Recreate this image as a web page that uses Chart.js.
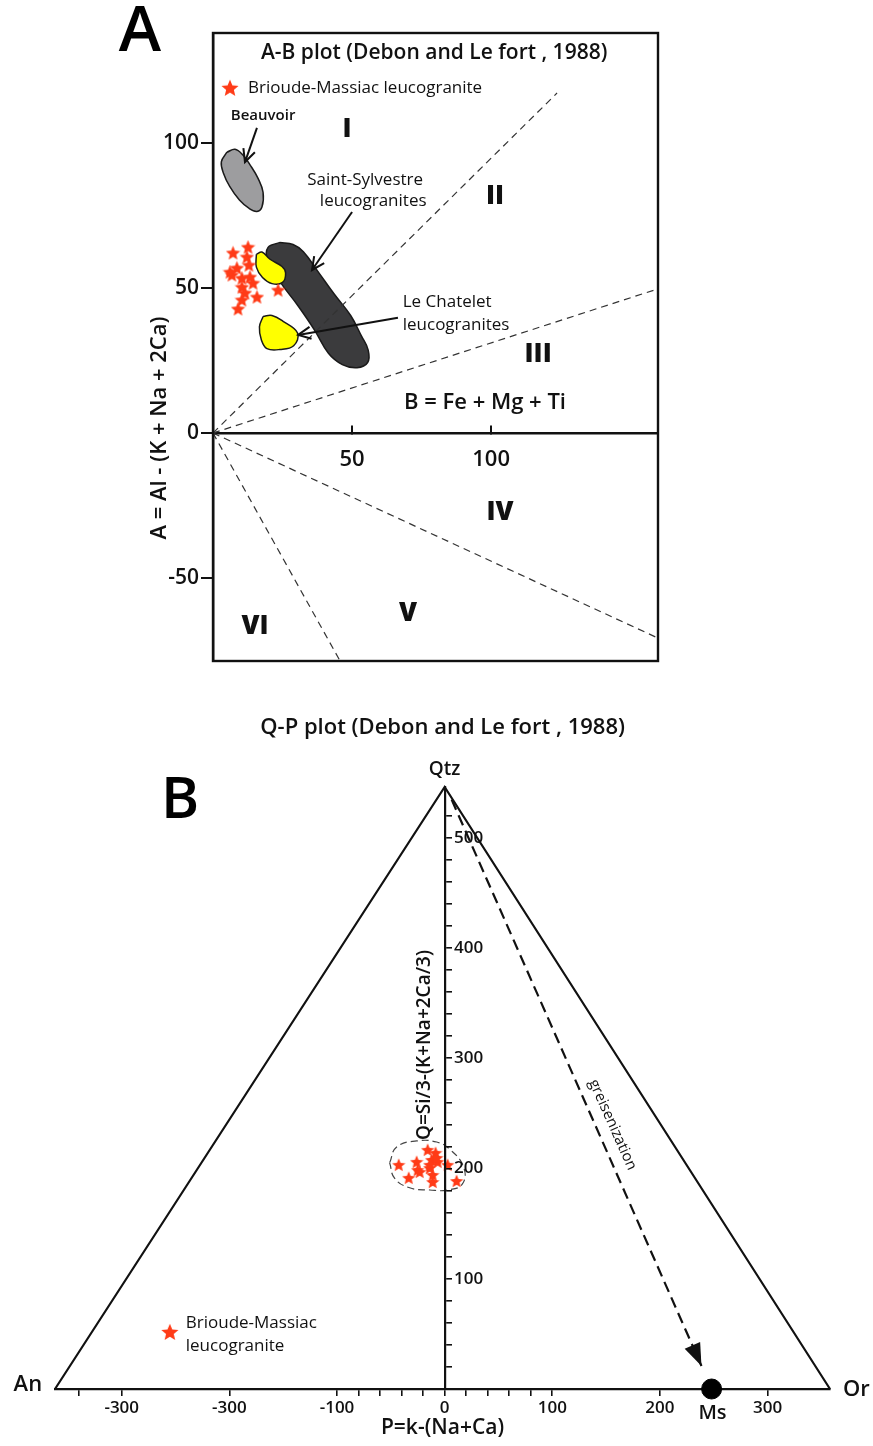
<!DOCTYPE html>
<html>
<head>
<meta charset="utf-8">
<script src="https://cdn.jsdelivr.net/npm/chart.js@4.4.1/dist/chart.umd.min.js"></script>
<style>
  body { margin: 0; background: #fff; }
  #wrap { position: relative; width: 873px; height: 1446px; }
  canvas { position: absolute; left: 0; }
  #cA { top: 0; }
  #cB, #cB2 { top: 700px; }
</style>
</head>
<body>
<div id="wrap">
  <canvas id="cA" width="873" height="700"></canvas>
  <canvas id="cB" width="873" height="746"></canvas>
  <canvas id="cB2" width="873" height="746"></canvas>
</div>
<script>
// ===============================
// DATA : A-B plot
// ===============================
const abStarX = [7.2, 12.6, 12.2, 12.9, 8.6, 6.8, 10.4, 13.3, 14.4, 10.4, 11.5, 10.4, 15.8, 9.0, 23.4, 6.1];
const abStarY = [62.1, 64.1, 60.7, 57.9, 56.9, 54.5, 53.4, 53.8, 51.7, 50.3, 48.3, 45.9, 46.9, 42.8, 49.3, 55.5];

const beauvoirX = [5.0, 7.9, 10.6, 13.5, 16.2, 18.0, 17.6, 15.8, 13.0, 9.5, 6.0, 3.8, 3.0, 5.0];
const beauvoirY = [96.8, 97.8, 96.0, 92.2, 87.8, 83.0, 77.9, 76.4, 77.4, 80.3, 85.0, 89.5, 93.5, 96.8];

const sylvestreX = [24.1, 19.8, 19.6, 24.2, 30.3, 36.5, 41.5, 46.5, 51.8, 55.6, 55.8, 53.4, 49.5, 43.5, 37.5, 32.5, 28.8, 24.1];
const sylvestreY = [65.7, 64.0, 59.7, 52.0, 44.2, 35.5, 27.5, 23.6, 22.5, 24.3, 28.6, 33.4, 40.5, 48.0, 56.0, 62.5, 65.0, 65.7];

const chatelet1X = [15.6, 17.6, 20.5, 24.8, 26.1, 25.0, 21.2, 17.8, 15.6, 15.6];
const chatelet1Y = [61.6, 62.4, 59.9, 57.4, 55.2, 51.9, 51.5, 53.6, 57.2, 61.6];
const chatelet2X = [18.0, 21.2, 25.2, 30.4, 29.0, 24.1, 19.4, 17.4, 16.7, 18.0];
const chatelet2Y = [40.2, 40.5, 38.5, 34.5, 30.1, 28.8, 29.1, 32.1, 36.6, 40.2];

// boundary lines, all start at the origin
const abLineEndX = [123.7, 160, 160, 45.7];
const abLineEndY = [117.2, 49.7, -70.7, -78.6];

// arrows [startX, startY, tipX, tipY]
const arrowBeauvoir = [15.8, 105.2, 11.5, 93.4];
const arrowSylvestre = [50.0, 76.2, 35.6, 56.2];
const arrowChatelet = [66.5, 39.7, 30.6, 33.8];

const abXTicks = [50, 100];
const abYTicks = [-50, 0, 50, 100];

// ===============================
// DATA : Q-P plot
// ===============================
const qpStarX = [-42.7, -26.0, -25.1, -33.4, -15.8, -8.4, -12.1, -6.5, -13.9, -11.1, -11.1, 2.8, 11.1, -23.2, -7.4, -13.9];
const qpStarY = [203.3, 206.0, 198.7, 191.5, 216.9, 214.2, 207.8, 206.0, 200.5, 194.2, 187.8, 203.3, 188.7, 196.9, 209.6, 203.3];

const fieldX = [-51.1, -44.6, -26.0, -7.4, 4.6, 17.5, 16.5, 2.8, -13.9, -32.5, -46.4, -51.1];
const fieldY = [205.1, 219.5, 225.0, 224.0, 217.5, 201.5, 186.0, 180.5, 180.5, 182.5, 191.0, 205.1];

const triangleX = [-362, 0, 358];
const triangleY = [0, 546, 0];

const greisenX = [6.5, 238.6];
const greisenY = [534.5, 20.9];

const msPoint = [248, 0];

const qpXTicks = [-340, -300, -200, -100, -80, -60, -40, -20, 0, 20, 40, 60, 80, 100, 200, 300];
const qpXLabels = ["", "-300", "-300", "-100", "", "", "", "", "0", "", "", "", "", "100", "200", "300"];
const qpYTicks = [20, 40, 60, 80, 100, 120, 140, 160, 180, 200, 220, 240, 260, 280, 300, 320, 340, 360, 380, 400, 420, 440, 460, 480, 500, 520];

// ===============================
// HELPERS
// ===============================
const FONT = '"Open Sans", "Noto Sans", sans-serif';
const INK = "#111";
const STAR_RED = "#ff3b17";

function pairs(xs, ys) {
  return xs.map((x, i) => ({ x: x, y: ys[i] }));
}

function makeStar(size, color) {
  const c = document.createElement("canvas");
  c.width = size;
  c.height = size;
  const g = c.getContext("2d");
  const r = size / 2;
  g.beginPath();
  for (let k = 0; k < 10; k++) {
    const rr = k % 2 ? r * 0.45 : r;
    const a = -Math.PI / 2 + (k * Math.PI) / 5;
    g.lineTo(r + rr * Math.cos(a), r * 1.08 + rr * Math.sin(a));
  }
  g.closePath();
  g.fillStyle = color;
  g.fill();
  return c;
}

// text drawn in data coordinates (or pixels when px is set)
const textPlugin = {
  id: "texts",
  afterDraw(chart, args, opts) {
    const ctx = chart.ctx;
    const xs = chart.scales.x;
    const ys = chart.scales.y;
    (opts.items || []).forEach((t) => {
      const px = t.px ? t.x : xs.getPixelForValue(t.x);
      const py = t.px ? t.y : ys.getPixelForValue(t.y);
      ctx.save();
      ctx.translate(px, py);
      if (t.rot) ctx.rotate((t.rot * Math.PI) / 180);
      ctx.font = t.font;
      ctx.fillStyle = t.color || INK;
      ctx.textAlign = t.align || "center";
      ctx.textBaseline = "middle";
      ctx.fillText(t.text, 0, 0);
      ctx.restore();
    });
  },
};

// arrow heads at the last point of datasets that carry an "arrow" option
const arrowPlugin = {
  id: "arrowHeads",
  afterDatasetsDraw(chart) {
    const ctx = chart.ctx;
    chart.data.datasets.forEach((ds, i) => {
      if (!ds.arrow) return;
      const pts = chart.getDatasetMeta(i).data;
      const a = pts[pts.length - 2];
      const b = pts[pts.length - 1];
      const ang = Math.atan2(b.y - a.y, b.x - a.x);
      const L = ds.arrow.len;
      const s = ds.arrow.spread;
      const p1 = [b.x - L * Math.cos(ang - s), b.y - L * Math.sin(ang - s)];
      const p2 = [b.x - L * Math.cos(ang + s), b.y - L * Math.sin(ang + s)];
      ctx.save();
      ctx.setLineDash([]);
      ctx.strokeStyle = INK;
      ctx.fillStyle = INK;
      ctx.lineWidth = ds.borderWidth;
      ctx.beginPath();
      ctx.moveTo(p1[0], p1[1]);
      ctx.lineTo(b.x, b.y);
      ctx.lineTo(p2[0], p2[1]);
      if (ds.arrow.filled) {
        ctx.closePath();
        ctx.fill();
      } else {
        ctx.stroke();
      }
      ctx.restore();
    });
  },
};

const framePlugin = {
  id: "frame",
  afterDatasetsDraw(chart) {
    const { left, top, right, bottom } = chart.chartArea;
    const ctx = chart.ctx;
    ctx.save();
    ctx.strokeStyle = INK;
    ctx.lineWidth = 2.4;
    ctx.strokeRect(left, top, right - left, bottom - top);
    ctx.restore();
  },
};

function lineSet(xs, ys, extra) {
  return Object.assign(
    {
      data: pairs(xs, ys),
      borderColor: INK,
      borderWidth: 1.2,
      pointRadius: 0,
      tension: 0,
      fill: false,
    },
    extra
  );
}

function arrowSet(a) {
  return lineSet([a[0], a[2]], [a[1], a[3]], {
    borderWidth: 2,
    arrow: { len: 14, spread: 0.45, filled: false },
  });
}

// ===============================
// A-B PLOT
// ===============================
const starA = makeStar(15, STAR_RED);
const starLegend = makeStar(18, STAR_RED);
const starB = makeStar(14, STAR_RED);

const abDashed = abLineEndX.map((x, i) =>
  lineSet([0, x], [0, abLineEndY[i]], { borderColor: "#333", borderWidth: 1.2, borderDash: [7, 5] })
);

function blob(xs, ys, fillColor) {
  return lineSet(xs, ys, {
    borderColor: "#1a1a1a",
    borderWidth: 1.5,
    backgroundColor: fillColor,
    fill: "shape",
    tension: 0.4,
  });
}

new Chart(document.getElementById("cA"), {
  type: "line",
  data: {
    datasets: [
      { data: pairs(abStarX, abStarY), showLine: false, pointStyle: starA, pointRadius: 7 },
      { data: [{ x: 6.1, y: 119.0 }], showLine: false, pointStyle: starLegend, pointRadius: 9 },
      arrowSet(arrowBeauvoir),
      arrowSet(arrowSylvestre),
      arrowSet(arrowChatelet),
      ...abDashed,
      blob(chatelet1X, chatelet1Y, "#ffff00"),
      blob(chatelet2X, chatelet2Y, "#ffff00"),
      blob(sylvestreX, sylvestreY, "#3b3b3d"),
      blob(beauvoirX, beauvoirY, "#9d9d9f"),
    ],
  },
  options: {
    responsive: false,
    animation: false,
    layout: { padding: { left: 153, right: 215, top: 33, bottom: 39 } },
    plugins: {
      legend: { display: false },
      tooltip: { enabled: false },
      texts: {
        items: [
          { px: true, x: 140, y: 33, text: "A", font: "600 64px " + FONT, color: "#000" },
          { x: 79.5, y: 131.0, text: "A-B plot (Debon and Le fort , 1988)", font: "600 21px " + FONT },
          { x: 12.6, y: 119.0, text: "Brioude-Massiac leucogranite", font: "500 17px " + FONT, align: "left" },
          { x: 18.0, y: 109.3, text: "Beauvoir", font: "600 15px " + FONT },
          { x: 48.2, y: 104.5, text: "I", font: "800 26px " + FONT },
          { x: 101.4, y: 81.4, text: "II", font: "800 26px " + FONT },
          { x: 116.9, y: 27.2, text: "III", font: "800 26px " + FONT },
          { x: 103.2, y: -27.6, text: "IV", font: "800 26px " + FONT },
          { x: 70.1, y: -62.1, text: "V", font: "800 26px " + FONT },
          { x: 15.1, y: -66.9, text: "VI", font: "800 26px " + FONT },
          { x: 54.7, y: 87.2, text: "Saint-Sylvestre", font: "500 17px " + FONT },
          { x: 57.6, y: 80.0, text: "leucogranites", font: "500 17px " + FONT },
          { x: 84.2, y: 45.2, text: "Le Chatelet", font: "500 17px " + FONT },
          { x: 87.4, y: 37.2, text: "leucogranites", font: "500 17px " + FONT },
          { x: 97.8, y: 10.3, text: "B = Fe + Mg + Ti", font: "600 22px " + FONT },
          { x: -19.1, y: 1.7, text: "A = Al - (K + Na + 2Ca)", font: "600 22px " + FONT, rot: -90 },
        ],
      },
    },
    scales: {
      x: {
        type: "linear",
        position: { y: 0 },
        min: 0,
        max: 160,
        afterBuildTicks: (s) => {
          s.ticks = abXTicks.map((v) => ({ value: v }));
        },
        grid: { drawOnChartArea: false, tickLength: -9, color: INK, lineWidth: 2 },
        border: { color: INK, width: 2.4 },
        ticks: { padding: 23, color: INK, maxRotation: 0, autoSkip: false, font: { family: FONT, size: 22, weight: "600" } },
      },
      y: {
        type: "linear",
        position: "left",
        min: -78.6,
        max: 137.9,
        afterBuildTicks: (s) => {
          s.ticks = abYTicks.map((v) => ({ value: v }));
        },
        afterFit: (s) => {
          s.width = 60;
        },
        grid: { drawOnChartArea: false, tickLength: 12, color: INK, lineWidth: 2 },
        border: { color: INK, width: 2.4 },
        ticks: { padding: 2, color: INK, font: { family: FONT, size: 21, weight: "600" } },
      },
    },
  },
  plugins: [textPlugin, arrowPlugin, framePlugin],
});

// ===============================
// Q-P PLOT
// ===============================
new Chart(document.getElementById("cB"), {
  type: "line",
  data: {
    datasets: [
      { data: pairs(qpStarX, qpStarY), showLine: false, pointStyle: starB, pointRadius: 7, clip: false },
      { data: [{ x: -255.3, y: 51.7 }], showLine: false, pointStyle: starLegend, pointRadius: 9, clip: false },
      {
        data: [{ x: msPoint[0], y: msPoint[1] }],
        showLine: false,
        pointStyle: "circle",
        pointRadius: 10,
        backgroundColor: "#000",
        borderColor: "#000",
        clip: false,
      },
      lineSet(greisenX, greisenY, {
        borderWidth: 2.2,
        borderDash: [11, 6],
        clip: false,
        arrow: { len: 24, spread: 0.36, filled: true },
      }),
      lineSet(fieldX, fieldY, { borderColor: "#444", borderWidth: 1.2, borderDash: [7, 4], tension: 0.45, clip: false }),
      lineSet(triangleX, triangleY, { borderWidth: 2.2, clip: false }),
    ],
  },
  options: {
    responsive: false,
    animation: false,
    layout: { padding: { left: 55, right: 43, top: 87, bottom: 3 } },
    plugins: {
      legend: { display: false },
      tooltip: { enabled: false },
      texts: {
        items: [
          { px: true, x: 180, y: 101, text: "B", font: "600 58px " + FONT, color: "#000" },
          { x: -1.9, y: 599.8, text: "Q-P plot (Debon and Le fort , 1988)", font: "600 22px " + FONT },
          { x: 0, y: 561.7, text: "Qtz", font: "600 19px " + FONT },
          { x: -387.2, y: 3.6, text: "An", font: "600 22px " + FONT },
          { x: 382.5, y: -0.9, text: "Or", font: "600 22px " + FONT },
          { x: 248.8, y: -21.8, text: "Ms", font: "600 20px " + FONT },
          { x: 156, y: 239.6, text: "greisenization", font: "500 15px " + FONT, rot: 66 },
          { x: -18.6, y: 312, text: "Q=Si/3-(K+Na+2Ca/3)", font: "600 19px " + FONT, rot: -90 },
          { x: -240.5, y: 59.9, text: "Brioude-Massiac", font: "500 17px " + FONT, align: "left" },
          { x: -240.5, y: 39.0, text: "leucogranite", font: "500 17px " + FONT, align: "left" },
        ],
      },
    },
    scales: {
      x: {
        type: "linear",
        position: "bottom",
        min: -362,
        max: 358,
        afterBuildTicks: (s) => {
          s.ticks = qpXTicks.map((v) => ({ value: v }));
        },
        afterFit: (s) => {
          s.height = 54;
        },
        grid: { drawOnChartArea: false, tickLength: 7, color: INK, lineWidth: 1.6 },
        border: { color: INK, width: 2.2 },
        ticks: {
          callback: (v, i) => qpXLabels[i],
          autoSkip: false,
          maxRotation: 0,
          padding: 2,
          color: INK,
          font: { family: FONT, size: 17, weight: "600" },
        },
        title: { display: true, text: "P=k-(Na+Ca)", color: INK, padding: { top: 0, bottom: 2 }, font: { family: FONT, size: 21, weight: "600" } },
      },
      y: { type: "linear", display: false, min: 0, max: 546 },
    },
  },
  plugins: [textPlugin, arrowPlugin],
});

// vertical Q axis, ticks and labels on its right side
new Chart(document.getElementById("cB2"), {
  type: "line",
  data: { datasets: [] },
  options: {
    responsive: false,
    animation: false,
    layout: { padding: { left: 0, right: 378, top: 87, bottom: 57 } },
    plugins: { legend: { display: false }, tooltip: { enabled: false } },
    scales: {
      x: { type: "linear", display: false, min: 0, max: 1 },
      y: {
        type: "linear",
        position: "right",
        min: 0,
        max: 546,
        afterBuildTicks: (s) => {
          s.ticks = qpYTicks.map((v) => ({ value: v }));
        },
        afterFit: (s) => {
          s.width = 50;
        },
        grid: { drawOnChartArea: false, tickLength: 7, color: INK, lineWidth: 1.6 },
        border: { color: INK, width: 2.2 },
        ticks: {
          callback: (v) => (v % 100 === 0 ? String(v) : ""),
          padding: 2,
          color: INK,
          font: { family: FONT, size: 17, weight: "600" },
        },
      },
    },
  },
});
</script>
</body>
</html>
